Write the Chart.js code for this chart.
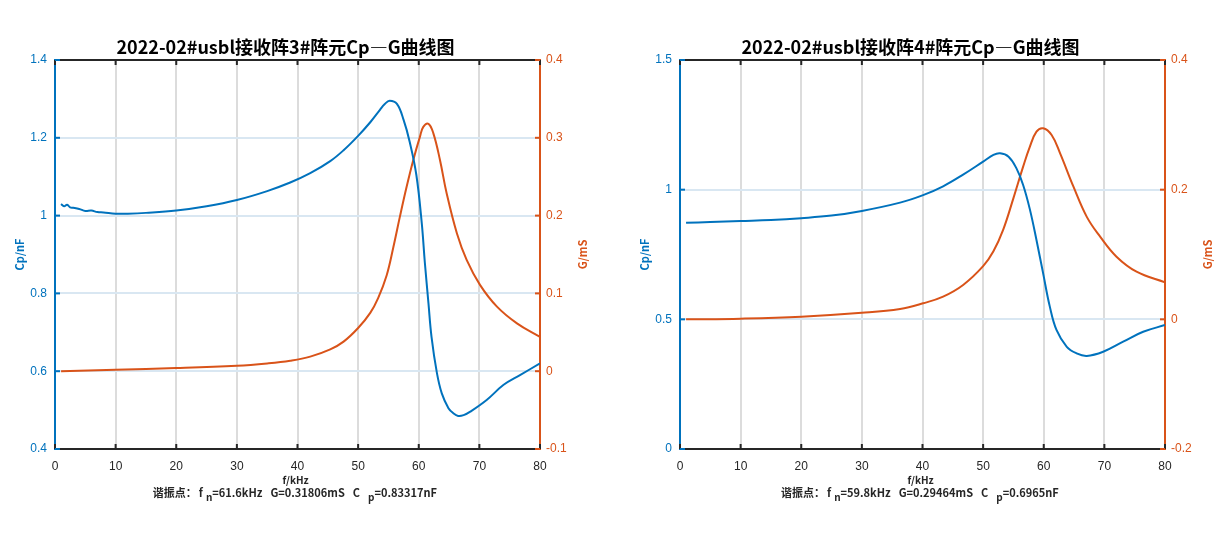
<!DOCTYPE html>
<html lang="zh">
  <head>
    <meta charset="UTF-8" />
    <title>Cp—G曲线图</title>
    <style>
      body { margin: 0; padding: 0; background: #fff; }
      #app { position: relative; width: 1232px; height: 537px; }
      .box { position: absolute; top: 0; width: 616px; height: 537px; }
      #box3 { left: 0; }
      #box4 { left: 616px; }
    </style>
  </head>
  <body>
    <div id="app">
      <div class="box" id="box3"><canvas id="chart3"></canvas></div>
      <div class="box" id="box4"><canvas id="chart4"></canvas></div>
    </div>
    <script src="https://cdn.jsdelivr.net/npm/chart.js"></script>
    <script>
      // array element 3: Cp (nF) and G (mS) against f (kHz)
      const cp3Freq = [1, 1.5, 2, 2.5, 3, 4, 5, 6, 7, 8, 10, 12, 15, 20, 25, 30, 35, 38.8, 42.1, 45.4, 47.6, 50, 52, 53.6, 54.4, 55.2, 56.4, 57.5, 58.5, 59.6, 60.5, 61, 61.6, 62.1, 63, 63.8, 64.9, 65.7, 66.5, 67.4, 68.5, 71.2, 74, 76.7, 80];
      const cp3Values = [1.03, 1.024, 1.028, 1.021, 1.02, 1.017, 1.012, 1.013, 1.009, 1.008, 1.005, 1.005, 1.007, 1.013, 1.024, 1.04, 1.063, 1.085, 1.109, 1.14, 1.168, 1.205, 1.24, 1.272, 1.287, 1.295, 1.287, 1.246, 1.19, 1.105, 0.98, 0.88, 0.775, 0.689, 0.595, 0.543, 0.505, 0.492, 0.485, 0.487, 0.496, 0.526, 0.565, 0.59, 0.62];
      const g3Freq = [1, 10, 20, 30, 35, 38.8, 42.1, 45.4, 47.6, 50, 52, 53.3, 54.7, 55.8, 56.9, 58, 59.1, 60.2, 60.75, 61.6, 62.4, 63.5, 64.6, 66.3, 67.9, 70.1, 72.9, 76.2, 80];
      const g3Values = [0, 0.002, 0.004, 0.007, 0.01, 0.0135, 0.0187, 0.028, 0.038, 0.0555, 0.075, 0.094, 0.123, 0.159, 0.199, 0.237, 0.2715, 0.3015, 0.314, 0.318, 0.306, 0.2715, 0.2287, 0.177, 0.143, 0.111, 0.083, 0.0615, 0.044];

      // array element 4
      const cp4Freq = [1, 5, 10, 15, 20, 25, 30, 36.3, 40.1, 43.4, 46.7, 50, 51.7, 52.8, 54.2, 55.5, 56.6, 57.7, 58.8, 59.9, 61, 62.1, 63.8, 65.4, 67.1, 69.8, 73.1, 76.4, 80];
      const cp4Values = [0.872, 0.875, 0.879, 0.883, 0.89, 0.9, 0.918, 0.95, 0.979, 1.013, 1.058, 1.108, 1.134, 1.14, 1.127, 1.082, 1.018, 0.925, 0.806, 0.677, 0.549, 0.459, 0.394, 0.369, 0.359, 0.375, 0.414, 0.452, 0.478];
      const g4Freq = [1, 10, 20, 30, 36.3, 40.1, 43.4, 46.7, 50, 51.7, 53.3, 55, 56.6, 57.7, 58.8, 59.9, 61.3, 62.7, 64.9, 67.1, 69.3, 72, 75.3, 80];
      const g4Values = [0, 0.001, 0.004, 0.01, 0.016, 0.0247, 0.035, 0.053, 0.082, 0.105, 0.138, 0.187, 0.2355, 0.266, 0.2894, 0.2947, 0.2843, 0.256, 0.2046, 0.158, 0.1275, 0.0966, 0.0735, 0.057];

      const titles = ["2022-02#usbl接收阵3#阵元Cp—G曲线图", "2022-02#usbl接收阵4#阵元Cp—G曲线图"];
      const resonance = [
        { fn: "61.6kHz", g: "0.31806mS", cp: "0.83317nF" },
        { fn: "59.8kHz", g: "0.29464mS", cp: "0.6965nF" },
      ];

      const BLUE = "#0072BD";
      const ORANGE = "#D95319";
      const DARK = "#262626";
      const CJK = "'Noto Sans CJK SC', sans-serif";
      const TICK_FONT = { family: "'Liberation Sans', Arial", size: 12 };

      function pairs(xs, ys) {
        return xs.map((x, i) => ({ x: x, y: ys[i] }));
      }

      function fmt(v) {
        return String(Number(v.toFixed(2)));
      }

      // top frame, inward ticks and the texts around the axes
      const decorPlugin = {
        id: "decor",
        afterDraw(chart, args, opts) {
          const ctx = chart.ctx;
          const a = chart.chartArea;
          const sx = chart.scales.x, sy = chart.scales.y, sy1 = chart.scales.y1;
          ctx.save();
          ctx.lineWidth = 2;
          ctx.strokeStyle = DARK;
          ctx.beginPath();
          ctx.moveTo(a.left, a.top);
          ctx.lineTo(a.right, a.top);
          ctx.stroke();
          sx.ticks.forEach((t) => {
            const px = sx.getPixelForValue(t.value);
            ctx.beginPath();
            ctx.moveTo(px, a.bottom);
            ctx.lineTo(px, a.bottom - 5);
            ctx.moveTo(px, a.top);
            ctx.lineTo(px, a.top + 5);
            ctx.stroke();
          });
          ctx.strokeStyle = BLUE;
          sy.ticks.forEach((t) => {
            const py = sy.getPixelForValue(t.value);
            ctx.beginPath();
            ctx.moveTo(a.left, py);
            ctx.lineTo(a.left + 5, py);
            ctx.stroke();
          });
          ctx.strokeStyle = ORANGE;
          sy1.ticks.forEach((t) => {
            const py = sy1.getPixelForValue(t.value);
            ctx.beginPath();
            ctx.moveTo(a.right, py);
            ctx.lineTo(a.right - 5, py);
            ctx.stroke();
          });

          const cx = (a.left + a.right) / 2;
          const cy = (a.top + a.bottom) / 2;

          // title
          ctx.fillStyle = "#000";
          ctx.font = "bold 18px " + CJK;
          ctx.textAlign = "center";
          ctx.textBaseline = "middle";
          ctx.fillText(opts.title, cx - 12, 47);

          // axis titles
          ctx.font = "bold 11px " + CJK;
          ctx.fillStyle = BLUE;
          ctx.save();
          ctx.translate(a.left - 35, cy);
          ctx.rotate(-Math.PI / 2);
          ctx.fillText("Cp/nF", 0, 0);
          ctx.restore();
          ctx.fillStyle = ORANGE;
          ctx.save();
          ctx.translate(a.right + 43, cy);
          ctx.rotate(-Math.PI / 2);
          ctx.fillText("G/mS", 0, 0);
          ctx.restore();

          ctx.fillStyle = DARK;
          ctx.font = "bold 10px " + CJK;
          ctx.fillText("f/kHz", cx - 2, 480);

          // resonance note with subscripts: [text, drop, gap after]
          const r = opts.res;
          const parts = [
            ["谐振点：", 0, 2],
            ["f", 0, 3],
            ["n", 4, 0],
            ["=" + r.fn, 0, 8],
            ["G=" + r.g, 0, 8],
            ["C", 0, 8],
            ["p", 4, 0],
            ["=" + r.cp, 0, 0],
          ];
          ctx.font = "bold 11px " + CJK;
          ctx.textAlign = "left";
          let total = 0;
          parts.forEach((p) => (total += ctx.measureText(p[0]).width + p[2]));
          let x = cx - 2 - total / 2;
          parts.forEach((p) => {
            ctx.font = (p[1] ? "bold 10px " : "bold 11px ") + CJK;
            ctx.fillText(p[0], x, 493 + p[1]);
            x += ctx.measureText(p[0]).width + p[2];
          });
          ctx.restore();
        },
      };

      function makeChart(id, cpData, gData, yCfg, y1Cfg, leftWidth, rightWidth, title, res) {
        return new Chart(document.getElementById(id), {
          type: "line",
          data: {
            datasets: [
              {
                data: cpData,
                yAxisID: "y",
                borderColor: BLUE,
                borderWidth: 2,
                pointRadius: 0,
                tension: 0.4,
              },
              {
                data: gData,
                yAxisID: "y1",
                borderColor: ORANGE,
                borderWidth: 2,
                pointRadius: 0,
                tension: 0.4,
              },
            ],
          },
          options: {
            responsive: true,
            maintainAspectRatio: false,
            animation: false,
            layout: { padding: { top: 60, left: 0, right: 0, bottom: 0 } },
            plugins: {
              legend: { display: false },
              tooltip: { enabled: false },
              decor: { title: title, res: res },
            },
            scales: {
              x: {
                type: "linear",
                min: 0,
                max: 80,
                afterFit: (s) => { s.height = 88; },
                ticks: { stepSize: 10, color: DARK, padding: 10, font: TICK_FONT },
                grid: { color: "#dcdcdc", lineWidth: 2, drawTicks: false },
                border: { color: DARK, width: 2 },
              },
              y: {
                position: "left",
                min: yCfg.min,
                max: yCfg.max,
                afterFit: (s) => { s.width = leftWidth; },
                ticks: { stepSize: yCfg.step, color: BLUE, padding: 8, font: TICK_FONT, callback: fmt },
                grid: { color: "#d9e7f2", lineWidth: 2, drawTicks: false },
                border: { color: BLUE, width: 2 },
              },
              y1: {
                position: "right",
                min: y1Cfg.min,
                max: y1Cfg.max,
                afterFit: (s) => { s.width = rightWidth; },
                ticks: { stepSize: y1Cfg.step, color: ORANGE, padding: 6, font: TICK_FONT, callback: fmt },
                grid: { display: false, drawTicks: false },
                border: { color: ORANGE, width: 2 },
              },
            },
          },
          plugins: [decorPlugin],
        });
      }

      makeChart(
        "chart3",
        pairs(cp3Freq, cp3Values),
        pairs(g3Freq, g3Values),
        { min: 0.4, max: 1.4, step: 0.2 },
        { min: -0.1, max: 0.4, step: 0.1 },
        55,
        76,
        titles[0],
        resonance[0]
      );
      makeChart(
        "chart4",
        pairs(cp4Freq, cp4Values),
        pairs(g4Freq, g4Values),
        { min: 0, max: 1.5, step: 0.5 },
        { min: -0.2, max: 0.4, step: 0.2 },
        64,
        67,
        titles[1],
        resonance[1]
      );
    </script>
  </body>
</html>
